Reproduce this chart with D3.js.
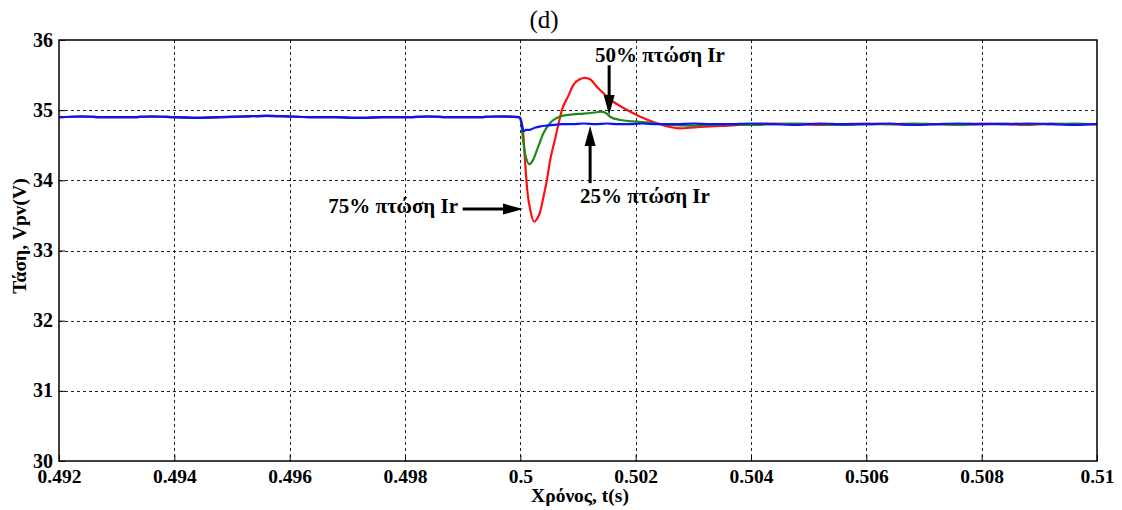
<!DOCTYPE html>
<html>
<head>
<meta charset="utf-8">
<script src="https://cdn.jsdelivr.net/npm/d3@7"></script>
<style>
  html, body { margin: 0; padding: 0; background: #fff; }
  svg { display: block; }
</style>
</head>
<body>
<svg id="chart" width="1122" height="510"></svg>
<script>
// ---- Data -------------------------------------------------------------
// Common operating point before the irradiance step (all three curves overlap)
const preTime = [0.492, 0.4924, 0.4928, 0.4932, 0.4936, 0.494, 0.4944, 0.4948, 0.4952, 0.4956,
                 0.496, 0.4964, 0.4968, 0.4972, 0.4976, 0.498, 0.4984, 0.4988, 0.4992, 0.4996, 0.49998];
const preVpv  = [34.90, 34.91, 34.90, 34.90, 34.91, 34.90, 34.89, 34.90, 34.91, 34.92,
                 34.91, 34.90, 34.90, 34.89, 34.90, 34.90, 34.91, 34.90, 34.90, 34.91, 34.90];

// Transient after the step at t = 0.5 s
const redTime  = [0.50003, 0.50005, 0.50008, 0.50012, 0.50018, 0.50024, 0.50029, 0.50034, 0.50040,
                  0.50046, 0.50052, 0.50060, 0.50066, 0.50072, 0.50083, 0.50092, 0.50103, 0.50112,
                  0.50121, 0.50133, 0.50147, 0.50161, 0.50173, 0.50190, 0.50207, 0.50225, 0.50242,
                  0.50259, 0.50277, 0.50295, 0.50311, 0.50330];
const redVpv   = [34.80, 34.67, 34.30, 33.86, 33.55, 33.41, 33.45, 33.54, 33.76,
                  34.00, 34.30, 34.58, 34.80, 35.00, 35.20, 35.36, 35.44, 35.46,
                  35.44, 35.33, 35.22, 35.12, 35.06, 34.98, 34.91, 34.85, 34.80,
                  34.76, 34.74, 34.75, 34.76, 34.77];

const greenTime = [0.50001, 0.50004, 0.50008, 0.50016, 0.50022, 0.50031, 0.50040, 0.50051, 0.50069,
                   0.50091, 0.50110, 0.50132, 0.50140, 0.50150, 0.50155, 0.50173, 0.50195, 0.50225,
                   0.50259, 0.50295, 0.50330];
const greenVpv  = [34.86, 34.62, 34.39, 34.23, 34.29, 34.48, 34.67, 34.81, 34.91,
                   34.94, 34.95, 34.97, 34.98, 34.95, 34.91, 34.86, 34.84, 34.82,
                   34.79, 34.78, 34.79];

const blueTime = [0.50001, 0.50003, 0.50006, 0.50010, 0.50016, 0.50025, 0.50035, 0.50045, 0.50058,
                  0.50072, 0.50090, 0.50110, 0.50130, 0.50150, 0.50170, 0.50190, 0.50210, 0.50240,
                  0.50270, 0.50300, 0.50330];
const blueVpv  = [34.85, 34.77, 34.70, 34.72, 34.72, 34.75, 34.77, 34.78, 34.79,
                  34.80, 34.80, 34.81, 34.80, 34.81, 34.80, 34.80, 34.81, 34.80,
                  34.80, 34.81, 34.80];

// Steady state after the transient
const postTime = [0.5036, 0.504, 0.5044, 0.5048, 0.5052, 0.5056, 0.506, 0.5064, 0.5068,
                  0.5072, 0.5076, 0.508, 0.5084, 0.5088, 0.5092, 0.5096, 0.51];
const redPost   = [34.78, 34.80, 34.81, 34.80, 34.79, 34.80, 34.81, 34.80, 34.79,
                   34.80, 34.80, 34.81, 34.80, 34.79, 34.81, 34.80, 34.80];
const greenPost = [34.80, 34.79, 34.80, 34.81, 34.80, 34.79, 34.80, 34.80, 34.81,
                   34.80, 34.79, 34.80, 34.81, 34.80, 34.80, 34.81, 34.80];
const bluePost  = [34.80, 34.81, 34.80, 34.79, 34.81, 34.80, 34.80, 34.81, 34.79,
                   34.80, 34.81, 34.80, 34.80, 34.81, 34.80, 34.79, 34.80];

// Axis ticks
const xTicks = [0.492, 0.494, 0.496, 0.498, 0.5, 0.502, 0.504, 0.506, 0.508, 0.51];
const xTickLabels = ["0.492", "0.494", "0.496", "0.498", "0.5", "0.502", "0.504", "0.506", "0.508", "0.51"];
const yTicks = [30, 31, 32, 33, 34, 35, 36];
const yTickLabels = ["30", "31", "32", "33", "34", "35", "36"];

// Text annotations (arrow tail -> tip, in data units)
const notes = [
  { text: "50% πτώση Ir", tail: [0.50154, 35.64], tip: [0.50154, 34.93], at: [0.501294, 35.685], anchor: "start" },
  { text: "25% πτώση Ir", tail: [0.50121, 33.96], tip: [0.50121, 34.775], at: [0.501034, 33.67], anchor: "start" },
  { text: "75% πτώση Ir", tail: [0.49900, 33.59], tip: [0.500046, 33.59], at: [0.49892, 33.53], anchor: "end" }
];

// ---- Layout -----------------------------------------------------------
const W = 1122, H = 510;
const m = { left: 59, right: W - 1097, top: 40, bottom: H - 461 };
const svg = d3.select("#chart");
svg.append("rect").attr("width", W).attr("height", H).attr("fill", "#fff");

const x = d3.scaleLinear().domain([0.492, 0.51]).range([m.left, W - m.right]);
const y = d3.scaleLinear().domain([30, 36]).range([H - m.bottom, m.top]);

const serif = "'Liberation Serif', 'Times New Roman', serif";

// Grid
const grid = svg.append("g").attr("stroke", "#222").attr("stroke-width", 1)
  .attr("stroke-dasharray", "3,3").attr("fill", "none");
grid.selectAll("line.v").data(xTicks.slice(1, -1)).join("line")
  .attr("x1", d => Math.round(x(d)) + 0.5).attr("x2", d => Math.round(x(d)) + 0.5)
  .attr("y1", y(36)).attr("y2", y(30));
grid.selectAll("line.h").data(yTicks.slice(1, -1)).join("line")
  .attr("y1", d => Math.round(y(d)) + 0.5).attr("y2", d => Math.round(y(d)) + 0.5)
  .attr("x1", x(0.492)).attr("x2", x(0.51));

// Axes
const xAxis = d3.axisBottom(x).tickValues(xTicks)
  .tickFormat((d, i) => xTickLabels[i]).tickSizeInner(-6).tickSizeOuter(0).tickPadding(10);
const yAxis = d3.axisLeft(y).tickValues(yTicks)
  .tickFormat((d, i) => yTickLabels[i]).tickSizeInner(-6).tickSizeOuter(0).tickPadding(6);

const gx = svg.append("g").attr("transform", `translate(0,${y(30)})`).call(xAxis);
const gy = svg.append("g").attr("transform", `translate(${x(0.492)},0)`).call(yAxis);
[gx, gy].forEach(g => {
  g.select(".domain").remove();
  g.selectAll(".tick line").attr("stroke", "#000");
  g.selectAll(".tick text").attr("fill", "#000")
    .style("font-family", serif).style("font-weight", "bold").style("font-size", "20px");
});
gx.selectAll(".tick text").attr("y", 21.5).attr("dy", 0).style("font-size", "19.5px");
gy.selectAll(".tick text").attr("dy", "0.3em");

// Series
const toPts = (t, v) => t.map((d, i) => [d, v[i]]);
const series = [
  { color: "#ff1010", pts: [...toPts(preTime, preVpv), ...toPts(redTime, redVpv), ...toPts(postTime, redPost)] },
  { color: "#1a8c1a", pts: [...toPts(preTime, preVpv), ...toPts(greenTime, greenVpv), ...toPts(postTime, greenPost)] },
  { color: "#1010ff", pts: [...toPts(preTime, preVpv), ...toPts(blueTime, blueVpv), ...toPts(postTime, bluePost)] }
];
const line = d3.line().x(d => x(d[0])).y(d => y(d[1])).curve(d3.curveMonotoneX);
svg.append("g").selectAll("path").data(series).join("path")
  .attr("fill", "none").attr("stroke", d => d.color).attr("stroke-width", 2.2)
  .attr("stroke-linejoin", "round").attr("d", d => line(d.pts));

// Plot frame
svg.append("rect")
  .attr("x", x(0.492)).attr("y", y(36))
  .attr("width", x(0.51) - x(0.492)).attr("height", y(30) - y(36))
  .attr("fill", "none").attr("stroke", "#000").attr("stroke-width", 1.5);

// Annotations with arrows
const ann = svg.append("g");
notes.forEach(n => {
  const x0 = x(n.tail[0]), y0 = y(n.tail[1]), x1 = x(n.tip[0]), y1 = y(n.tip[1]);
  const dx = x1 - x0, dy = y1 - y0, len = Math.hypot(dx, dy);
  const ux = dx / len, uy = dy / len, head = 20, hw = 5.5;
  const bx = x1 - ux * head, by = y1 - uy * head;
  ann.append("line").attr("x1", x0).attr("y1", y0).attr("x2", bx).attr("y2", by)
    .attr("stroke", "#000").attr("stroke-width", 3);
  ann.append("path")
    .attr("d", `M${x1},${y1}L${bx - uy * hw},${by + ux * hw}L${bx + uy * hw},${by - ux * hw}Z`)
    .attr("fill", "#000");
  ann.append("text").attr("x", x(n.at[0])).attr("y", y(n.at[1]))
    .attr("text-anchor", n.anchor)
    .style("font-family", serif).style("font-weight", "bold").style("font-size", "21px")
    .text(n.text);
});

// Titles
svg.append("text").attr("x", 544).attr("y", 28).attr("text-anchor", "middle")
  .style("font-family", serif).style("font-size", "25px").text("(d)");
svg.append("text").attr("x", (x(0.492) + x(0.51)) / 2 + 2).attr("y", 502).attr("text-anchor", "middle")
  .style("font-family", serif).style("font-weight", "bold").style("font-size", "19.5px").text("Χρόνος, t(s)");
svg.append("text").attr("transform", `translate(26,236) rotate(-90)`).attr("text-anchor", "middle")
  .style("font-family", serif).style("font-weight", "bold").style("font-size", "19.5px").text("Τάση, Vpv(V)");
</script>
</body>
</html>
